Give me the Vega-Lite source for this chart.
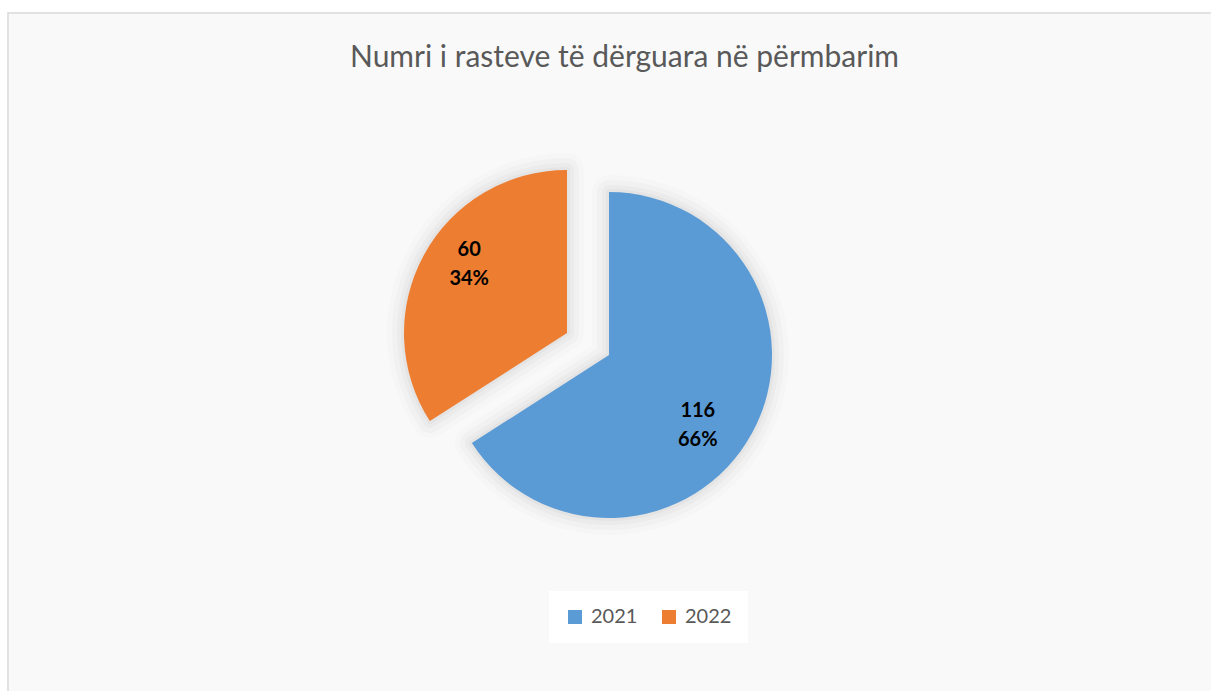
{
  "$schema": "https://vega.github.io/schema/vega-lite/v6.json",
  "width": 1205,
  "height": 684,
  "autosize": {"type": "none"},
  "padding": {"left": 8, "top": 13, "right": -2, "bottom": -6},
  "background": "#ffffff",
  "view": {"stroke": "#d9d9d9", "strokeWidth": 1.5, "fill": "#f9f9f9"},
  "title": {
    "text": "Numri i rasteve të dërguara në përmbarim",
    "orient": "top",
    "anchor": "middle",
    "frame": "group",
    "offset": -60,
    "dx": 14,
    "font": "Lato",
    "fontSize": 30,
    "fontWeight": "normal",
    "color": "#595959"
  },
  "data": {
    "values": [
      {"year": "2021", "value": 116, "pct": "66%"},
      {"year": "2022", "value": 60, "pct": "34%"}
    ]
  },
  "encoding": {
    "theta": {"field": "value", "type": "quantitative", "stack": true},
    "detail": {"field": "year", "type": "nominal"},
    "order": {"field": "year", "type": "nominal", "sort": "ascending"}
  },
  "layer": [
    {
      "mark": {"type": "arc", "radius": 163, "xOffset": -1.5, "yOffset": 0, "fillOpacity": 0, "stroke": "#000", "strokeWidth": 34, "strokeJoin": "round"},
      "encoding": {"strokeOpacity": {"condition": {"test": "datum.year === '2021'", "value": 0.012}, "value": 0}}
    },
    {
      "mark": {"type": "arc", "radius": 163, "xOffset": -1.5, "yOffset": 0, "fillOpacity": 0, "stroke": "#000", "strokeWidth": 24, "strokeJoin": "round"},
      "encoding": {"strokeOpacity": {"condition": {"test": "datum.year === '2021'", "value": 0.018}, "value": 0}}
    },
    {
      "mark": {"type": "arc", "radius": 163, "xOffset": -1.5, "yOffset": 0, "fillOpacity": 0, "stroke": "#000", "strokeWidth": 14, "strokeJoin": "round"},
      "encoding": {"strokeOpacity": {"condition": {"test": "datum.year === '2021'", "value": 0.022}, "value": 0}}
    },
    {
      "mark": {"type": "arc", "radius": 163, "xOffset": -1.5, "yOffset": 0, "fillOpacity": 0, "stroke": "#000", "strokeWidth": 6, "strokeJoin": "round"},
      "encoding": {"strokeOpacity": {"condition": {"test": "datum.year === '2021'", "value": 0.028}, "value": 0}}
    },
    {
      "mark": {"type": "arc", "radius": 163, "xOffset": -43.5, "yOffset": -22, "fillOpacity": 0, "stroke": "#000", "strokeWidth": 34, "strokeJoin": "round"},
      "encoding": {"strokeOpacity": {"condition": {"test": "datum.year === '2022'", "value": 0.012}, "value": 0}}
    },
    {
      "mark": {"type": "arc", "radius": 163, "xOffset": -43.5, "yOffset": -22, "fillOpacity": 0, "stroke": "#000", "strokeWidth": 24, "strokeJoin": "round"},
      "encoding": {"strokeOpacity": {"condition": {"test": "datum.year === '2022'", "value": 0.018}, "value": 0}}
    },
    {
      "mark": {"type": "arc", "radius": 163, "xOffset": -43.5, "yOffset": -22, "fillOpacity": 0, "stroke": "#000", "strokeWidth": 14, "strokeJoin": "round"},
      "encoding": {"strokeOpacity": {"condition": {"test": "datum.year === '2022'", "value": 0.022}, "value": 0}}
    },
    {
      "mark": {"type": "arc", "radius": 163, "xOffset": -43.5, "yOffset": -22, "fillOpacity": 0, "stroke": "#000", "strokeWidth": 6, "strokeJoin": "round"},
      "encoding": {"strokeOpacity": {"condition": {"test": "datum.year === '2022'", "value": 0.028}, "value": 0}}
    },
    {
      "mark": {"type": "arc", "radius": 163, "xOffset": -1.5, "yOffset": 0},
      "encoding": {
        "color": {
          "field": "year",
          "type": "nominal",
          "scale": {"domain": ["2021", "2022"], "range": ["#5b9bd5", "#ed7d31"]},
          "legend": {
            "orient": "none",
            "legendX": 541,
            "legendY": 578,
            "direction": "horizontal",
            "title": null,
            "symbolType": "square",
            "symbolSize": 196,
            "symbolStrokeWidth": 0,
            "labelFont": "Lato",
            "labelFontSize": 20,
            "labelColor": "#595959",
            "fillColor": "#ffffff",
            "padding": 16,
            "columnPadding": 21,
            "labelOffset": 6
          }
        },
        "opacity": {"condition": {"test": "datum.year === '2021'", "value": 1}, "value": 0}
      }
    },
    {
      "mark": {"type": "arc", "radius": 163, "xOffset": -43.5, "yOffset": -22},
      "encoding": {
        "color": {"field": "year", "type": "nominal"},
        "opacity": {"condition": {"test": "datum.year === '2022'", "value": 1}, "value": 0}
      }
    },
    {
      "mark": {"type": "text", "radius": 112, "xOffset": -11, "yOffset": 17, "dy": -14.5, "font": "Lato", "fontSize": 20, "fontWeight": "bold", "color": "#000000"},
      "encoding": {
        "text": {"field": "value", "type": "quantitative"},
        "opacity": {"condition": {"test": "datum.year === '2021'", "value": 1}, "value": 0}
      }
    },
    {
      "mark": {"type": "text", "radius": 112, "xOffset": -11, "yOffset": 17, "dy": 14.5, "font": "Lato", "fontSize": 20, "fontWeight": "bold", "color": "#000000"},
      "encoding": {
        "text": {"field": "pct", "type": "nominal"},
        "opacity": {"condition": {"test": "datum.year === '2021'", "value": 1}, "value": 0}
      }
    },
    {
      "mark": {"type": "text", "radius": 112, "xOffset": -43, "yOffset": -37, "dy": -14.5, "font": "Lato", "fontSize": 20, "fontWeight": "bold", "color": "#000000"},
      "encoding": {
        "text": {"field": "value", "type": "quantitative"},
        "opacity": {"condition": {"test": "datum.year === '2022'", "value": 1}, "value": 0}
      }
    },
    {
      "mark": {"type": "text", "radius": 112, "xOffset": -43, "yOffset": -37, "dy": 14.5, "font": "Lato", "fontSize": 20, "fontWeight": "bold", "color": "#000000"},
      "encoding": {
        "text": {"field": "pct", "type": "nominal"},
        "opacity": {"condition": {"test": "datum.year === '2022'", "value": 1}, "value": 0}
      }
    }
  ]
}
